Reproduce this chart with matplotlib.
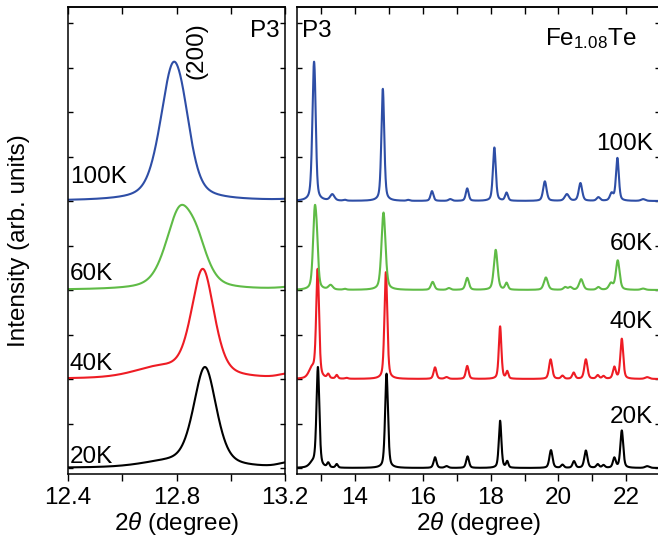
import numpy as np
import matplotlib.pyplot as plt
from matplotlib.ticker import MultipleLocator, FormatStrFormatter

plt.rcParams['font.family'] = ['Liberation Sans', 'DejaVu Sans']
plt.rcParams['mathtext.fontset'] = 'custom'
plt.rcParams['mathtext.rm'] = 'Liberation Sans'
plt.rcParams['mathtext.it'] = 'Liberation Sans:italic'

#-----------------------------------------
# peak tables
# (position in 2theta, height, fwhm)
#-----------------------------------------
temps = ['20K', '40K', '60K', '100K']
colors = ['black', '#ee1c24', '#5fbb46', '#2e4ea6']
offsets = [0, 1, 2, 3]

pos_100 = [12.785, 12.825, 13.33, 13.7, 14.82, 15.57, 16.27, 16.81, 17.31, 18.11,
           18.47, 19.6, 20.25, 20.65, 21.18, 21.57, 21.74, 22.5]
h_100 = [1.40, 0.3, 0.07, 0.01, 1.26, 0.01, 0.11, 0.02, 0.14, 0.6,
         0.09, 0.22, 0.075, 0.2, 0.04, 0.08, 0.48, 0.02]
w_100 = [0.11, 0.08, 0.15, 0.1, 0.1, 0.1, 0.1, 0.12, 0.1, 0.1,
         0.1, 0.12, 0.15, 0.12, 0.12, 0.12, 0.1, 0.15]

pos_60 = [12.81, 12.875, 13.28, 13.7, 14.84, 16.29, 16.77, 17.31, 18.15, 18.47,
          19.63, 20.2, 20.35, 20.67, 21.18, 21.55, 21.75, 22.5]
h_60 = [0.82, 0.35, 0.05, 0.01, 0.87, 0.09, 0.02, 0.135, 0.45, 0.075,
        0.14, 0.03, 0.03, 0.12, 0.03, 0.07, 0.33, 0.015]
w_60 = [0.12, 0.1, 0.15, 0.1, 0.14, 0.12, 0.12, 0.12, 0.13, 0.1,
        0.14, 0.12, 0.12, 0.14, 0.12, 0.14, 0.13, 0.15]

pos_40 = [12.897, 12.73, 13.21, 13.46, 13.75, 14.91, 16.36, 16.7, 17.31, 18.28,
          18.49, 19.77, 20.12, 20.45, 20.81, 21.16, 21.33, 21.65, 21.87, 22.62]
h_40 = [1.21, 0.11, 0.045, 0.04, 0.01, 1.2, 0.13, 0.02, 0.146, 0.59,
        0.08, 0.22, 0.035, 0.07, 0.22, 0.04, 0.03, 0.13, 0.45, 0.02]
w_40 = [0.1, 0.22, 0.08, 0.08, 0.1, 0.1, 0.1, 0.12, 0.1, 0.09,
        0.08, 0.11, 0.1, 0.1, 0.11, 0.1, 0.1, 0.1, 0.1, 0.15]

pos_20 = [12.905, 12.75, 13.21, 13.46, 14.93, 16.36, 16.7, 17.32, 18.28, 18.49,
          19.78, 20.12, 20.46, 20.81, 21.16, 21.33, 21.65, 21.87, 22.62]
h_20 = [1.12, 0.05, 0.05, 0.04, 1.06, 0.12, 0.02, 0.13, 0.53, 0.07,
        0.2, 0.035, 0.075, 0.195, 0.04, 0.03, 0.11, 0.42, 0.02]
w_20 = [0.1, 0.22, 0.08, 0.08, 0.1, 0.1, 0.12, 0.1, 0.09, 0.08,
        0.11, 0.1, 0.1, 0.11, 0.1, 0.1, 0.1, 0.1, 0.15]

peaks = [(pos_20, h_20, w_20), (pos_40, h_40, w_40),
         (pos_60, h_60, w_60), (pos_100, h_100, w_100)]

eta = 0.45   # lorentzian fraction of the pseudo-voigt profile


def pattern(x, pos, h, w):
    y = np.zeros_like(x)
    for p, a, g in zip(pos, h, w):
        hw = g / 2.
        lor = hw**2 / ((x - p)**2 + hw**2)
        gau = np.exp(-np.log(2.) * ((x - p) / hw)**2)
        y = y + a * (eta * lor + (1 - eta) * gau)
    return y


fig = plt.figure(figsize=(6.58, 5.45), dpi=100)
axl = fig.add_axes([68/658, 71/545, 217/658, 467/545])
axr = fig.add_axes([297.4/658, 71/545, 362.7/658, 467/545])

xl = np.linspace(12.4, 13.2, 1200)
xr = np.linspace(12.3, 23.0, 8000)

for k in range(4):
    pos, h, w = peaks[k]
    axl.plot(xl, pattern(xl, pos, h, w) + offsets[k], color=colors[k], lw=1.5)
    axr.plot(xr, pattern(xr, pos, h, w) + offsets[k], color=colors[k], lw=1.5)

fs = 17.5
for ax in (axl, axr):
    ax.set_ylim(-0.067, 5.18)
    ax.yaxis.set_major_locator(MultipleLocator(0.5))
    ax.tick_params(axis='y', which='both', direction='in', length=3.5, width=1,
                   left=True, right=True, labelleft=False)
    ax.tick_params(axis='x', which='both', direction='out', length=5, width=1,
                   labelsize=fs, pad=4)
    for s in ax.spines.values():
        s.set_linewidth(1.1)
    ax.set_xlabel(r'2$\theta$ (degree)', fontsize=fs, labelpad=1)

axl.set_xlim(12.4, 13.2)
axl.xaxis.set_major_locator(MultipleLocator(0.4))
axl.xaxis.set_minor_locator(MultipleLocator(0.2))
axl.xaxis.set_major_formatter(FormatStrFormatter('%.1f'))

axr.set_xlim(12.3, 23.0)
axr.xaxis.set_major_locator(MultipleLocator(2))
axr.xaxis.set_minor_locator(MultipleLocator(1))
axr.xaxis.set_major_formatter(FormatStrFormatter('%d'))

# inward ticks on the top edge
for ax, mj, mn in ((axl, 0.4, 0.2), (axr, 2, 1)):
    top = ax.secondary_xaxis('top')
    top.xaxis.set_major_locator(MultipleLocator(mj))
    top.xaxis.set_minor_locator(MultipleLocator(mn))
    top.tick_params(axis='x', which='both', direction='in', length=5, width=1,
                    labeltop=False)
    top.spines['top'].set_linewidth(1.1)

axl.set_ylabel('Intensity (arb. units)', fontsize=fs)
axl.yaxis.set_label_coords(-0.175, 0.5)

# labels
left_y = [0.06, 1.10, 2.11, 3.20]
right_y = [0.51, 1.57, 2.45, 3.57]
for k in range(4):
    axl.text(12.407, left_y[k], temps[k], fontsize=fs, va='baseline', ha='left')
    axr.text(22.79, right_y[k], temps[k], fontsize=fs, va='baseline', ha='right')

axl.text(13.18, 4.84, 'P3', fontsize=fs, va='baseline', ha='right')
axr.text(12.44, 4.84, 'P3', fontsize=fs, va='baseline', ha='left')
axr.text(19.60, 4.75, r'Fe$_{1.08}$Te', fontsize=fs, va='baseline', ha='left')
axl.text(12.872, 4.685, '(200)', fontsize=fs, rotation=90, ha='center', va='center')

fig.savefig('out.png', dpi=100)
